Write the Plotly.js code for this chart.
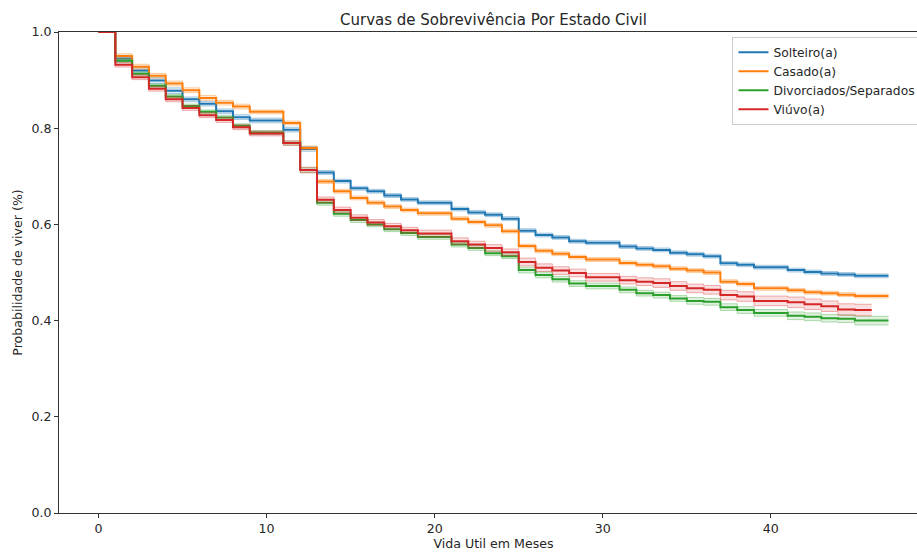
<!DOCTYPE html>
<html><head><meta charset="utf-8">
<script src="https://cdn.plot.ly/plotly-3.0.1.min.js"></script>
<style>html,body{margin:0;padding:0;overflow:hidden;background:#fff;width:917px;height:553px}#chart{width:928px;height:553px}</style>
</head><body><div id="chart"></div>
<script>
// Months (step start times)
const months = [0,1,2,3,4,5,6,7,8,9,10,11,12,13,14,15,16,17,18,19,20,21,22,23,24,25,26,27,28,29,30,31,32,33,34,35,36,37,38,39,40,41,42,43,44,45,46,47];

const seriesNames = ["Solteiro(a)", "Casado(a)", "Divorciados/Separados", "Viúvo(a)"];

// Kaplan-Meier survival estimates
const solteiro = [1.0,0.945,0.920,0.899,0.878,0.860,0.851,0.835,0.823,0.816,0.816,0.797,0.757,0.708,0.690,0.675,0.669,0.660,0.652,0.645,0.645,0.632,0.625,0.620,0.612,0.587,0.578,0.573,0.565,0.562,0.562,0.554,0.550,0.547,0.541,0.538,0.534,0.519,0.516,0.511,0.511,0.505,0.501,0.498,0.496,0.493,0.493,0.493];
const casado = [1.0,0.950,0.928,0.909,0.893,0.879,0.863,0.853,0.845,0.834,0.834,0.811,0.759,0.689,0.669,0.655,0.645,0.637,0.630,0.623,0.623,0.612,0.605,0.598,0.586,0.555,0.545,0.539,0.532,0.527,0.527,0.520,0.516,0.513,0.508,0.504,0.500,0.481,0.476,0.467,0.467,0.463,0.459,0.457,0.454,0.451,0.451,0.451];
const divorciados = [1.0,0.940,0.913,0.888,0.866,0.846,0.834,0.822,0.805,0.791,0.791,0.769,0.713,0.645,0.622,0.609,0.600,0.590,0.582,0.574,0.574,0.558,0.551,0.540,0.534,0.505,0.495,0.486,0.477,0.472,0.472,0.464,0.457,0.453,0.446,0.441,0.439,0.428,0.422,0.416,0.416,0.410,0.408,0.405,0.404,0.400,0.400,0.400];
const viuvo = [1.0,0.932,0.906,0.882,0.860,0.842,0.827,0.817,0.802,0.789,0.789,0.769,0.713,0.651,0.630,0.614,0.604,0.596,0.588,0.581,0.581,0.565,0.558,0.551,0.542,0.522,0.510,0.504,0.499,0.490,0.490,0.484,0.481,0.478,0.472,0.467,0.464,0.453,0.450,0.441,0.441,0.438,0.434,0.430,0.423,0.422,0.422];

// Confidence-interval half widths
const solteiroCI = [0,0.006,0.006,0.006,0.006,0.005,0.005,0.005,0.005,0.005,0.005,0.005,0.005,0.004,0.004,0.004,0.004,0.004,0.004,0.004,0.004,0.004,0.004,0.004,0.004,0.004,0.004,0.004,0.004,0.004,0.004,0.004,0.004,0.004,0.004,0.004,0.004,0.004,0.004,0.004,0.004,0.004,0.004,0.004,0.004,0.004,0.004,0.004];
const casadoCI = [0,0.005,0.005,0.005,0.005,0.005,0.005,0.005,0.005,0.004,0.004,0.004,0.004,0.004,0.004,0.004,0.004,0.004,0.004,0.004,0.004,0.004,0.004,0.004,0.004,0.004,0.004,0.004,0.004,0.004,0.004,0.004,0.004,0.004,0.004,0.004,0.004,0.004,0.004,0.004,0.004,0.004,0.004,0.004,0.004,0.004,0.004,0.004];
const divorciadosCI = [0,0.004,0.004,0.004,0.004,0.004,0.004,0.004,0.004,0.004,0.004,0.004,0.005,0.005,0.005,0.005,0.005,0.005,0.005,0.005,0.005,0.005,0.005,0.005,0.005,0.006,0.006,0.006,0.006,0.006,0.006,0.006,0.006,0.006,0.006,0.007,0.007,0.007,0.007,0.007,0.007,0.008,0.008,0.008,0.008,0.009,0.009,0.009];
const viuvoCI = [0,0.005,0.005,0.005,0.005,0.005,0.005,0.005,0.005,0.005,0.005,0.005,0.006,0.006,0.006,0.006,0.006,0.006,0.006,0.007,0.007,0.007,0.007,0.007,0.007,0.008,0.008,0.008,0.008,0.008,0.008,0.008,0.008,0.009,0.009,0.009,0.009,0.010,0.010,0.010,0.010,0.011,0.011,0.011,0.012,0.012,0.012];

const colors = ["31,119,180", "255,127,14", "44,160,44", "214,39,40"];
const allSeries = [solteiro, casado, divorciados, viuvo];
const allCI = [solteiroCI, casadoCI, divorciadosCI, viuvoCI];

const traces = [];
allSeries.forEach((s, i) => {
  const x = months.slice(0, s.length);
  const lo = s.map((v, k) => v - allCI[i][k]);
  const hi = s.map((v, k) => v + allCI[i][k]);
  const c = colors[i];
  traces.push({x: x, y: lo, mode: 'lines', line: {shape: 'hv', color: 'rgba(' + c + ',0.35)', width: 1}, showlegend: false, hoverinfo: 'skip'});
  traces.push({x: x, y: hi, mode: 'lines', line: {shape: 'hv', color: 'rgba(' + c + ',0.35)', width: 1}, fill: 'tonexty', fillcolor: 'rgba(' + c + ',0.15)', showlegend: false, hoverinfo: 'skip'});
  traces.push({x: x, y: s, mode: 'lines', name: seriesNames[i], line: {shape: 'hv', color: 'rgb(' + c + ')', width: 2}});
});

const font = {family: 'DejaVu Sans', size: 12.6, color: '#262626'};
const layout = {
  width: 928, height: 553,
  margin: {l: 59, r: 0, t: 32, b: 40},
  paper_bgcolor: '#fff', plot_bgcolor: '#fff',
  font: font,
  title: {text: 'Curvas de Sobrevivência Por Estado Civil', font: {family: 'DejaVu Sans', size: 15, color: '#262626'}, x: 0.5, xref: 'paper', y: 0.965, yanchor: 'middle'},
  xaxis: {range: [-2.35, 49.35], tickvals: [0,10,20,30,40], ticks: 'outside', ticklen: 4, tickcolor: '#333', showgrid: false, zeroline: false, showline: true, linecolor: '#333', linewidth: 1, mirror: true,
          title: {text: 'Vida Util em Meses', font: font, standoff: 4}},
  yaxis: {range: [0, 1], tickvals: [0,0.2,0.4,0.6,0.8,1.0], ticktext: ['0.0','0.2','0.4','0.6','0.8','1.0'], ticks: 'outside', ticklen: 4, tickcolor: '#333', showgrid: false, zeroline: false, showline: true, linecolor: '#333', linewidth: 1, mirror: true,
          title: {text: 'Probabilidade de viver (%)', font: font, standoff: 6}},
  legend: {x: 0.9925, xanchor: 'right', y: 0.99, yanchor: 'top', bgcolor: 'rgba(255,255,255,0.85)', bordercolor: '#ccc', borderwidth: 1, font: {family: 'DejaVu Sans', size: 12.3, color: '#262626'}, tracegroupgap: 0, itemwidth: 30, traceorder: 'normal'},
  showlegend: true
};
Plotly.newPlot('chart', traces, layout, {staticPlot: true, displayModeBar: false});
</script>
</body></html>
